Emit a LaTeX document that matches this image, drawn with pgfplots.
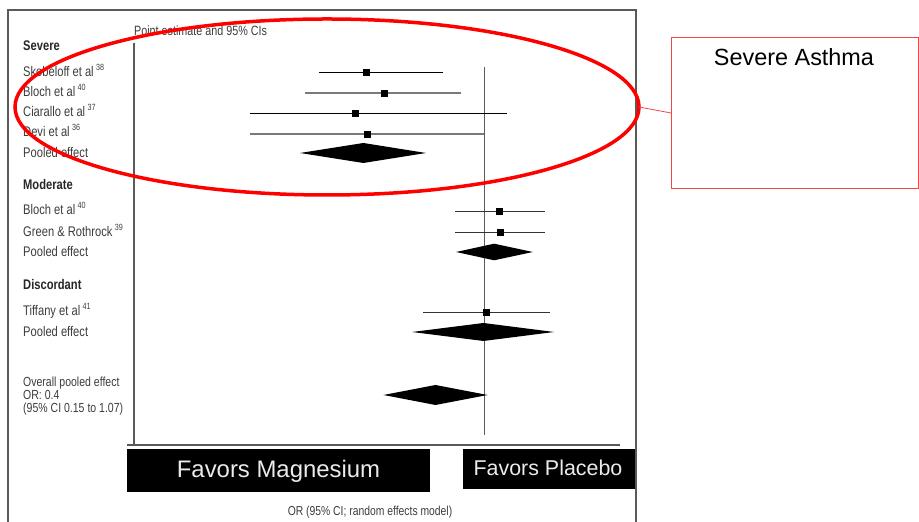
\documentclass[border=0pt]{standalone}
\usepackage{pgfplots}
\pgfplotsset{compat=1.18}
\usepackage{fontspec}
\setmainfont{Liberation Sans}
\newfontfamily\narrow[FakeStretch=0.8]{Liberation Sans}
\definecolor{labelgray}{HTML}{3C3C3C}
\definecolor{framegray}{HTML}{5A5A5A}
\definecolor{cigray}{HTML}{7A7A7A}
\definecolor{boxred}{HTML}{F04848}
\newcommand{\sref}[1]{\,\raisebox{0.8ex}{\fontsize{9}{9}\selectfont #1}}
\newcommand{\lab}[1]{\fontsize{14}{14}\selectfont\narrow\color{labelgray}#1}
\newcommand{\labs}[1]{\fontsize{13.2}{13.2}\selectfont\narrow\color{labelgray}#1}
\newcommand{\hdr}[1]{\fontsize{14}{14}\selectfont\narrow\bfseries\color{black!85}#1}
\begin{document}
\begin{tikzpicture}[x=1bp,y=1bp]
\useasboundingbox (0,0) rectangle (919,522);

% outer frame of the figure panel
\draw[framegray, line width=1.2bp] (8,-2) -- (8,512) -- (636,512) -- (636,-2);

% forest plot: odds ratios on a log scale, rows stacked vertically
\begin{axis}[
  at={(134bp,77bp)}, anchor=south west,
  scale only axis, width=486bp, height=402bp,
  xmode=log, xmin=0.001355, xmax=13.01,
  ymin=77, ymax=479,
  axis lines=none, clip=false,
  xtick=\empty, ytick=\empty,
]
  % line of no effect (OR = 1)
  \addplot[framegray, line width=1bp] coordinates {(1,87) (1,455)};

  % 95% confidence intervals of the single studies
  \addplot[black, line width=0.9bp] coordinates {(0.0447,450) (0.464,450)};   % Skobeloff
  \addplot[cigray, line width=1.1bp] coordinates {(0.0343,429) (0.652,429)};  % Bloch (severe)
  \addplot[black, line width=0.9bp] coordinates {(0.0121,409) (1.534,409)};   % Ciarallo
  \addplot[cigray, line width=1.1bp] coordinates {(0.0121,388) (1.0,388)};    % Devi
  \addplot[black!80, line width=0.9bp] coordinates {(0.582,311) (3.14,311)};  % Bloch (moderate)
  \addplot[black!80, line width=0.9bp] coordinates {(0.582,290) (3.14,290)};  % Green & Rothrock
  \addplot[black!80, line width=0.9bp] coordinates {(0.318,210) (3.47,210)};  % Tiffany

  % point estimates
  \addplot[only marks, mark=square*, mark size=3bp, black] coordinates {
    (0.1079,450) (0.1508,429) (0.0882,409) (0.1094,388)
    (1.335,311) (1.35,290) (1.04,210)};

  % pooled effects (diamonds: lower CI, estimate, upper CI)
  \addplot[fill=black, draw=none] coordinates {(0.0311,369) (0.1026,379) (0.335,369) (0.1026,359)} -- cycle;
  \addplot[fill=black, draw=none] coordinates {(0.59,270) (1.21,278.3) (2.51,270) (1.21,261.7)} -- cycle;
  \addplot[fill=black, draw=none] coordinates {(0.257,190) (0.99,199) (3.75,190) (0.99,181)} -- cycle;
  \addplot[fill=black, draw=none] coordinates {(0.15,127) (0.4,137) (1.07,127) (0.4,117)} -- cycle;
\end{axis}

% axis frame lines
\draw[framegray, line width=1.3bp] (134,479) -- (134,77);
\draw[framegray, line width=1.3bp] (127,77) -- (620,77);

% header above the plot area
\node[anchor=base west, inner sep=0pt] at (134,486.8) {\fontsize{13.5}{13.5}\selectfont\narrow\color{labelgray}Point estimate and 95\% CIs};

% row labels
\node[anchor=base west, inner sep=0pt] at (23,471.5) {\hdr{Severe}};
\node[anchor=base west, inner sep=0pt] at (23,445.8) {\lab{Skobeloff et al\sref{38}}};
\node[anchor=base west, inner sep=0pt] at (23,425.8) {\lab{Bloch et al\sref{40}}};
\node[anchor=base west, inner sep=0pt] at (23,405.8) {\lab{Ciarallo et al\sref{37}}};
\node[anchor=base west, inner sep=0pt] at (23,385.8) {\lab{Devi et al\sref{36}}};
\node[anchor=base west, inner sep=0pt] at (23,364.8) {\lab{Pooled effect}};
\node[anchor=base west, inner sep=0pt] at (23,332.5) {\hdr{Moderate}};
\node[anchor=base west, inner sep=0pt] at (23,307.5) {\lab{Bloch et al\sref{40}}};
\node[anchor=base west, inner sep=0pt] at (23,285.8) {\lab{Green \& Rothrock\sref{39}}};
\node[anchor=base west, inner sep=0pt] at (23,265.8) {\lab{Pooled effect}};
\node[anchor=base west, inner sep=0pt] at (23,232.5) {\hdr{Discordant}};
\node[anchor=base west, inner sep=0pt] at (23,206.5) {\lab{Tiffany et al\sref{41}}};
\node[anchor=base west, inner sep=0pt] at (23,185.8) {\lab{Pooled effect}};
\node[anchor=base west, inner sep=0pt] at (23,135.2) {\labs{Overall pooled effect}};
\node[anchor=base west, inner sep=0pt] at (23,122.2) {\labs{OR: 0.4}};
\node[anchor=base west, inner sep=0pt] at (23,109.6) {\labs{(95\% CI 0.15 to 1.07)}};

% x axis title
\node[anchor=base, inner sep=0pt] at (370,6) {\fontsize{13}{13}\selectfont\narrow\color{labelgray}OR (95\% CI; random effects model)};

% tick label partly hidden behind the caption box
\node[anchor=base, inner sep=0pt] at (131,56) {\fontsize{14}{14}\selectfont\narrow\color{gray}0};

% direction captions
\fill[black] (127,73) rectangle (430,30);
\node[anchor=base, inner sep=0pt] at (278.5,44.4) {\fontsize{24}{24}\selectfont\color{black!8}Favors Magnesium};
\fill[black] (462.7,73) rectangle (635,33);
\node[anchor=base, inner sep=0pt] at (548,46.3) {\fontsize{21.5}{21.5}\selectfont\color{black!8}Favors Placebo};

% highlight of the severe subgroup with callout
\draw[red, line width=3.5bp] (327,415) ellipse [x radius=312, y radius=88];
\draw[boxred, line width=0.8bp] (639,415) -- (671,409);
\draw[boxred, line width=0.9bp] (671,485) rectangle (918,334);
\node[anchor=base, inner sep=0pt] at (794,456.5) {\fontsize{23.5}{23.5}\selectfont\color{black}Severe Asthma};
\end{tikzpicture}
\end{document}
